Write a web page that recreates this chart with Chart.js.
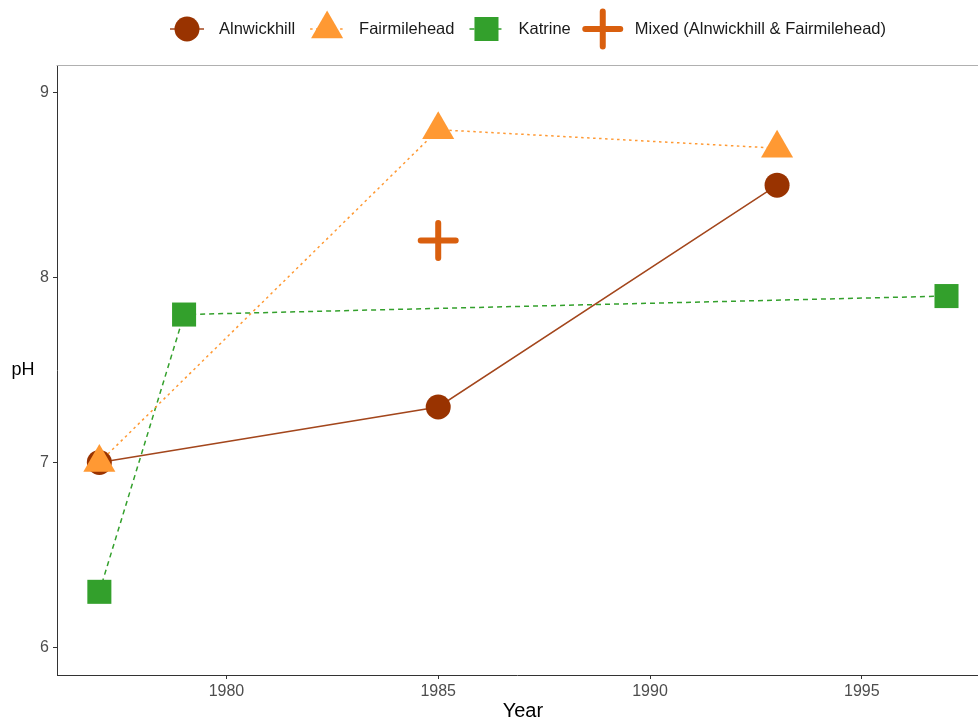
<!DOCTYPE html>
<html>
<head>
<meta charset="utf-8">
<script src="https://cdn.jsdelivr.net/npm/chart.js@4.4.0/dist/chart.umd.min.js"></script>
<style>
  html, body { margin: 0; padding: 0; background: #ffffff; }
  #wrap { width: 978px; height: 722px; }
</style>
</head>
<body>
<div id="wrap"><canvas id="c" width="978" height="722"></canvas></div>
<script>
// pH measurements by source water and year
const seriesNames = ['Alnwickhill', 'Fairmilehead', 'Katrine', 'Mixed (Alnwickhill & Fairmilehead)'];
const alnwickhillYears = [1977, 1985, 1993];
const alnwickhillPH = [7.0, 7.3, 8.5];
const fairmileheadYears = [1977, 1985, 1993];
const fairmileheadPH = [7.0, 8.8, 8.7];
const katrineYears = [1977, 1979, 1997];
const katrinePH = [6.3, 7.8, 7.9];
const mixedYears = [1985];
const mixedPH = [8.2];
const xTicks = [1980, 1985, 1990, 1995];
const yTicks = [6, 7, 8, 9];
const xPanelRange = [1976, 1998];

const FONT = "'Liberation Sans', Arial, sans-serif";
const toPoints = (xs, ys) => xs.map((x, i) => ({ x: x, y: ys[i] }));

// per-series look: marker style, marker radius, colours, dash pattern
const looks = [
  { pointStyle: 'circle',   radius: 12.5, point: '#993300', line: '#a3461c', dash: [],         lineWidth: 1.5, show: true },
  { pointStyle: 'triangle', radius: 18.5, point: '#ff9933', line: '#ff9933', dash: [2.5, 3.5], lineWidth: 1.5, show: true },
  { pointStyle: 'rect',     radius: 17,   point: '#33a02c', line: '#33a02c', dash: [5, 4],     lineWidth: 1.5, show: true },
  { pointStyle: 'cross',    radius: 17.5, point: '#d95f0e', line: '#d95f0e', dash: [],         lineWidth: 1.5, show: false, crossWidth: 6 }
];
const seriesData = [
  toPoints(alnwickhillYears, alnwickhillPH),
  toPoints(fairmileheadYears, fairmileheadPH),
  toPoints(katrineYears, katrinePH),
  toPoints(mixedYears, mixedPH)
];
const drawOrder = [2, 1, 3, 0];

const datasets = seriesNames.map((name, i) => {
  const lk = looks[i];
  return {
    label: name,
    data: seriesData[i],
    order: drawOrder[i],
    showLine: lk.show,
    borderColor: lk.line,
    borderWidth: lk.lineWidth,
    borderDash: lk.dash,
    fill: false,
    tension: 0,
    pointStyle: lk.pointStyle,
    pointRadius: lk.radius,
    pointHoverRadius: lk.radius,
    pointBackgroundColor: lk.point,
    pointBorderColor: lk.point,
    pointBorderWidth: lk.crossWidth || 0
  };
});

// round caps for the cross marker
const capPlugin = {
  id: 'caps',
  beforeDatasetsDraw(chart) { chart.ctx.lineCap = 'round'; chart.ctx.lineJoin = 'round'; }
};

// top panel edge, axis titles and the legend row
const decorPlugin = {
  id: 'decor',
  afterDraw(chart) {
    const ctx = chart.ctx;
    const a = chart.chartArea;
    const xs = chart.scales.x;
    ctx.save();
    ctx.strokeStyle = '#b0b0b0';
    ctx.lineWidth = 1.2;
    ctx.setLineDash([]);
    ctx.beginPath();
    ctx.moveTo(a.left, a.top + 0.5);
    ctx.lineTo(chart.width, a.top + 0.5);
    ctx.stroke();

    ctx.fillStyle = '#000000';
    ctx.font = '18px ' + FONT;
    ctx.textAlign = 'center';
    ctx.textBaseline = 'middle';
    ctx.fillText('pH', 23, (a.top + a.bottom) / 2);

    // x title centred on the full panel width
    ctx.font = '20px ' + FONT;
    const panelMid = (xs.getPixelForValue(xPanelRange[0]) + xs.getPixelForValue(xPanelRange[1])) / 2;
    ctx.fillText('Year', panelMid, 711);

    // legend row
    ctx.font = '16.5px ' + FONT;
    const keyHalf = 17, toText = 32, afterText = 32;
    const y = 29;
    let kc = 187;
    const drawPoint = Chart.helpers && Chart.helpers.drawPoint;
    seriesNames.forEach((name, i) => {
      const lk = looks[i];
      if (lk.show) {
        ctx.strokeStyle = lk.line;
        ctx.lineWidth = lk.lineWidth;
        ctx.lineCap = 'butt';
        ctx.setLineDash(lk.dash);
        ctx.beginPath();
        ctx.moveTo(kc - keyHalf, y);
        ctx.lineTo(kc + keyHalf, y);
        ctx.stroke();
        ctx.setLineDash([]);
      }
      ctx.fillStyle = lk.point;
      ctx.strokeStyle = lk.point;
      ctx.lineWidth = lk.crossWidth || 0;
      ctx.lineCap = 'round';
      if (drawPoint) {
        drawPoint(ctx, { pointStyle: lk.pointStyle, radius: lk.radius, rotation: 0, borderWidth: lk.crossWidth || 0 }, kc, y);
      }
      ctx.fillStyle = '#1a1a1a';
      ctx.textAlign = 'left';
      ctx.textBaseline = 'middle';
      const tx = kc + toText;
      ctx.fillText(name, tx, y);
      kc = tx + ctx.measureText(name).width + afterText;
    });
    ctx.restore();
  }
};

new Chart(document.getElementById('c'), {
  type: 'scatter',
  data: { datasets: datasets },
  plugins: [capPlugin, decorPlugin],
  options: {
    responsive: false,
    animation: false,
    events: [],
    layout: { autoPadding: false, padding: { top: 65, right: 1, bottom: 0, left: 0 } },
    plugins: { legend: { display: false }, tooltip: { enabled: false } },
    scales: {
      x: {
        type: 'linear',
        min: 1976,
        max: 1997.72,
        afterBuildTicks: s => { s.ticks = xTicks.map(v => ({ value: v })); },
        afterFit: s => { s.height = 47; s.paddingLeft = 0; s.paddingRight = 0; },
        ticks: { color: '#4d4d4d', font: { family: FONT, size: 16 }, padding: 3, maxRotation: 0, callback: v => String(v) },
        grid: { drawOnChartArea: false, drawTicks: true, tickLength: 4, color: '#333333' },
        border: { display: true, color: '#333333', width: 1 },
        title: { display: false }
      },
      y: {
        type: 'linear',
        min: 5.85,
        max: 9.15,
        afterBuildTicks: s => { s.ticks = yTicks.map(v => ({ value: v })); },
        afterFit: s => { s.width = 57; s.paddingTop = 0; s.paddingBottom = 0; },
        ticks: { color: '#4d4d4d', font: { family: FONT, size: 16 }, padding: 4, callback: v => String(v) },
        grid: { drawOnChartArea: false, drawTicks: true, tickLength: 4, color: '#333333' },
        border: { display: true, color: '#333333', width: 1 }
      }
    }
  }
});
</script>
</body>
</html>
